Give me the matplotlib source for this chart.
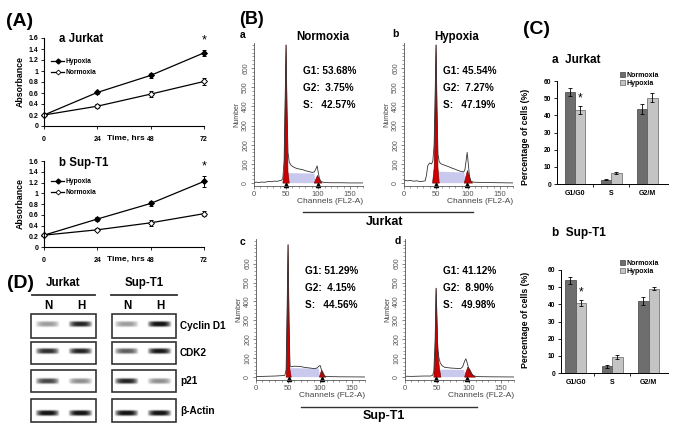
import numpy as np
import matplotlib
matplotlib.use('Agg')
from matplotlib import pyplot as plt
from matplotlib.lines import Line2D
from matplotlib.patches import Rectangle
from matplotlib.ticker import MultipleLocator, FixedLocator, FuncFormatter

plt.rcParams['font.family'] = ['Liberation Sans', 'DejaVu Sans']

W, H = 685, 428

# ---- (A) absorbance over time
hours = [0, 24, 48, 72]
jk_hyp = [0.20, 0.61, 0.92, 1.33]
jk_hyp_err = [0.02, 0.03, 0.04, 0.06]
jk_nor = [0.20, 0.36, 0.58, 0.81]
jk_nor_err = [0.02, 0.04, 0.05, 0.06]
st_hyp = [0.22, 0.52, 0.81, 1.22]
st_hyp_err = [0.02, 0.03, 0.04, 0.10]
st_nor = [0.22, 0.32, 0.45, 0.62]
st_nor_err = [0.02, 0.03, 0.05, 0.05]

# ---- (B) DNA content histograms (channel, count)
a_ch = [0, 4, 8, 12, 16, 20, 24, 28, 32, 36, 40, 43, 45, 47, 48.5, 50, 51.5, 53, 55, 58, 61, 64, 67,
        70, 73, 76, 79, 82, 85, 88, 91, 94, 96, 98.5, 100, 102, 104, 107, 112, 120, 135, 150, 170]
a_cnt = [3, 5, 3, 6, 4, 7, 9, 7, 11, 9, 13, 15, 25, 120, 420, 720, 380, 160, 108, 92, 85, 80, 76,
         74, 72, 70, 66, 63, 61, 58, 56, 58, 70, 90, 60, 25, 10, 5, 3, 2, 2, 1, 1]
a_g1 = ([45, 47, 48.5, 50, 51.5, 53, 55], [0, 60, 380, 720, 380, 60, 0])
a_g2 = ([94, 97, 99, 101, 104, 106], [0, 25, 40, 28, 8, 0])
a_s = ([52, 54, 94, 97], [0, 52, 50, 0])

b_ch = [0, 5, 10, 15, 20, 25, 30, 33, 35, 37, 40, 43, 45, 47, 48.5, 50, 51.5, 53, 55, 58, 62, 66,
        70, 75, 80, 85, 90, 93, 95, 97, 98.5, 100, 102, 104, 108, 115, 130, 150, 170]
b_cnt = [15, 12, 14, 10, 12, 8, 10, 12, 40, 90, 105, 100, 115, 200, 450, 720, 380, 150, 110, 100, 95, 90,
         85, 78, 72, 65, 60, 58, 70, 120, 160, 110, 40, 12, 5, 4, 3, 2, 1]
b_g1 = ([44.5, 47, 48.5, 50, 51.5, 53, 55], [0, 80, 400, 720, 380, 80, 0])
b_g2 = ([94, 97, 99, 101, 104, 107], [0, 40, 66, 45, 12, 0])
b_s = ([52, 54, 94, 96], [0, 60, 55, 0])

c_ch = [0, 10, 20, 30, 40, 45, 47, 48.5, 50, 51.5, 53, 55, 60, 65, 70, 75, 80, 85, 90, 95, 98, 100,
        102, 104, 106, 115, 130, 170]
c_cnt = [3, 4, 5, 6, 8, 10, 40, 350, 700, 300, 60, 55, 58, 57, 56, 52, 50, 48, 45, 48, 58, 62,
         40, 15, 5, 3, 2, 1]
c_g1 = ([47, 48.5, 50, 51.5, 53, 55], [0, 300, 700, 300, 40, 0])
c_g2 = ([99, 101, 103, 105, 107, 109], [0, 25, 35, 22, 8, 0])
c_s = ([52, 54, 98, 100], [0, 48, 45, 0])

d_ch = [0, 10, 20, 30, 40, 43, 45, 47, 48.5, 50, 51, 53, 55, 58, 62, 67, 72, 77, 82, 87, 90, 93,
        95, 97, 99, 101, 103, 106, 112, 130, 170]
d_cnt = [5, 4, 5, 6, 6, 10, 30, 200, 470, 300, 150, 100, 75, 60, 52, 50, 48, 47, 46, 46, 55, 85,
         97, 75, 50, 38, 20, 8, 3, 2, 1]
d_g1 = ([45, 47, 48.5, 50, 52, 54, 56], [0, 150, 470, 280, 100, 40, 0])
d_g2 = ([93, 95, 98, 101, 105, 110], [0, 25, 53, 40, 15, 0])
d_s = ([53, 55, 92, 95], [0, 40, 38, 0])

peak_marks = {'a': [50, 100], 'b': [50, 99], 'c': [51, 103], 'd': [49, 97]}
stats = {'a': ['G1: 53.68%', 'G2:  3.75%', 'S:   42.57%'],
         'b': ['G1: 45.54%', 'G2:  7.27%', 'S:   47.19%'],
         'c': ['G1: 51.29%', 'G2:  4.15%', 'S:   44.56%'],
         'd': ['G1: 41.12%', 'G2:  8.90%', 'S:   49.98%']}

# ---- (C) cell cycle distribution (%)
phases = ['G1/G0', 'S', 'G2/M']
jk_bar_nor = [53.7, 2.6, 43.8]
jk_bar_nor_err = [2.5, 0.3, 3.0]
jk_bar_hyp = [43.3, 6.3, 50.3]
jk_bar_hyp_err = [2.4, 0.7, 2.8]
st_bar_nor = [54.0, 3.8, 42.0]
st_bar_nor_err = [2.0, 1.0, 2.2]
st_bar_hyp = [41.0, 9.4, 49.2]
st_bar_hyp_err = [1.8, 1.2, 1.0]

# ---- (D) western blot band intensities (N, H)
proteins = ['Cyclin D1', 'CDK2', 'p21', 'β-Actin']
jk_bands = [[0.40, 0.90], [0.85, 0.90], [0.75, 0.45], [1.00, 1.00]]
st_bands = [[0.40, 1.00], [0.65, 0.95], [0.90, 0.45], [1.00, 1.00]]


fig = plt.figure(figsize=(W / 100, H / 100), dpi=100)


def px_axes(x0, y0, x1, y1):
    return fig.add_axes([x0 / W, 1 - y1 / H, (x1 - x0) / W, (y1 - y0) / H])


def ftext(x, y, s, **kw):
    kw.setdefault('ha', 'center')
    kw.setdefault('va', 'center')
    return fig.text(x / W, 1 - y / H, s, **kw)


def fline(x0, x1, y, lw=1.0):
    fig.add_artist(Line2D([x0 / W, x1 / W], [1 - y / H, 1 - y / H], color='#333333', lw=lw))


def absorbance(box, hyp, hyp_err, nor, nor_err, title, title_y, leg_y):
    ax = px_axes(*box)
    kw = dict(color='black', marker='D', ms=3, lw=0.9, capsize=1.5, elinewidth=0.7,
              capthick=0.7, mew=0.7, clip_on=False)
    ax.errorbar(hours, hyp, yerr=hyp_err, mfc='black', **kw)
    ax.errorbar(hours, nor, yerr=nor_err, mfc='white', **kw)
    ax.set_xlim(0, 72)
    ax.set_ylim(0, 1.6)
    for s in ('top', 'right'):
        ax.spines[s].set_visible(False)
    for s in ('left', 'bottom'):
        ax.spines[s].set_linewidth(0.8)
    ax.set_xticks(hours)
    ax.set_yticks(np.arange(0, 1.61, 0.2))
    ax.yaxis.set_major_formatter(FuncFormatter(lambda v, p: '%g' % round(v, 1)))
    ax.tick_params(labelsize=5, length=2, width=0.6, pad=2)
    for lab in ax.get_xticklabels() + ax.get_yticklabels():
        lab.set_fontweight('bold')
    ax.tick_params(axis='x', pad=5)
    ax.text(72, hyp[-1] + hyp_err[-1] + 0.06, '*', ha='center', va='bottom', fontsize=9)
    ax.set_ylabel('Absorbance', fontsize=6.3, fontweight='bold', labelpad=3)
    ftext(59, title_y, title, ha='left', fontsize=8.3, fontweight='bold')
    handles = [Line2D([], [], color='black', marker='D', ms=2.5, mfc='black', lw=0.9),
               Line2D([], [], color='black', marker='D', ms=2.5, mfc='white', mew=0.6, lw=0.9)]
    ax.legend(handles, ['Hypoxia', 'Normoxia'], loc='upper left',
              bbox_to_anchor=(51 / W, 1 - leg_y / H), bbox_transform=fig.transFigure,
              frameon=False, handlelength=2.0, handletextpad=0.2, labelspacing=0.65,
              borderpad=0, borderaxespad=0, prop={'size': 4.8, 'weight': 'bold'})
    return ax


# ---------------- (A)
ftext(20, 21, '(A)', fontsize=14, fontweight='bold')
ax = absorbance((44, 38, 204, 126), jk_hyp, jk_hyp_err, jk_nor, jk_nor_err, 'a Jurkat', 39, 58)
ftext(126, 138, 'Time, hrs', fontsize=6, fontweight='bold')
ax = absorbance((44, 161, 204, 247), st_hyp, st_hyp_err, st_nor, st_nor_err, 'b Sup-T1', 163, 178)
ftext(126, 259, 'Time, hrs', fontsize=6, fontweight='bold')


# ---------------- (B)
def histogram(box, ch, cnt, g1, g2, s, marks, letter, lines, stat_x, stat_y, title=None, title_x=None):
    ax = px_axes(*box)
    ax.fill(s[0], s[1], color='#c9c9ee', lw=0)
    ax.fill(g1[0], g1[1], color='#cc0000', ec='#700000', lw=0.4)
    ax.fill(g2[0], g2[1], color='#cc0000', ec='#700000', lw=0.4)
    ax.plot(ch, cnt, color='#333333', lw=0.6)
    ax.plot(marks, [-8, -8], ls='none', marker='^', ms=3, color='black', clip_on=False)
    ax.set_xlim(0, 170)
    ax.set_ylim(-15, 730)
    for sp in ('top', 'right'):
        ax.spines[sp].set_visible(False)
    for sp in ('left', 'bottom'):
        ax.spines[sp].set_linewidth(0.6)
        ax.spines[sp].set_color('#555555')
    ax.xaxis.set_major_locator(FixedLocator([0, 50, 100, 150]))
    ax.xaxis.set_minor_locator(MultipleLocator(10))
    ax.yaxis.set_major_locator(FixedLocator(range(0, 601, 100)))
    ax.yaxis.set_minor_locator(MultipleLocator(20))
    ax.tick_params(which='major', length=2.5, width=0.5, colors='#555555', labelsize=5.5, pad=1)
    ax.tick_params(which='minor', length=1.5, width=0.4, colors='#555555')
    ax.tick_params(axis='y', labelrotation=90, labelsize=5)
    for lab in ax.get_yticklabels():
        lab.set_va('center')
    ax.set_xlabel('Channels (FL2-A)', fontsize=6, color='#444444', labelpad=0, loc='right')
    ax.set_ylabel('Number', fontsize=5, color='#444444', labelpad=1)
    ftext(letter[1], letter[2], letter[0], fontsize=7.5, fontweight='bold')
    for i, txt in enumerate(lines):
        ftext(stat_x, stat_y + 17 * i, txt, ha='left', fontsize=7.2, fontweight='bold')
    if title:
        ftext(title_x, 37, title, fontsize=8.3, fontweight='bold')
    return ax


ftext(251, 19, '(B)', fontsize=13, fontweight='bold')
histogram((254, 43, 363, 186), a_ch, a_cnt, a_g1, a_g2, a_s, peak_marks['a'], ('a', 243, 35),
          stats['a'], 303, 71, 'Normoxia', 323)
histogram((404, 43, 513, 186), b_ch, b_cnt, b_g1, b_g2, b_s, peak_marks['b'], ('b', 395, 34),
          stats['b'], 443, 71, 'Hypoxia', 457)
histogram((256, 239, 365, 380), c_ch, c_cnt, c_g1, c_g2, c_s, peak_marks['c'], ('c', 243, 242),
          stats['c'], 305, 271)
histogram((405, 239, 514, 380), d_ch, d_cnt, d_g1, d_g2, d_s, peak_marks['d'], ('d', 398, 241),
          stats['d'], 443, 271)
fline(303, 473, 212)
ftext(385, 222, 'Jurkat', fontsize=9, fontweight='bold')
fline(301, 477, 407)
ftext(384, 416, 'Sup-T1', fontsize=9, fontweight='bold')


# ---------------- (C)
def phase_bars(box, xlim, nor, nor_err, hyp, hyp_err, title, title_y, leg_y, ylab_y):
    ax = px_axes(*box)
    x = np.arange(len(phases))
    w = 0.29
    ekw = dict(elinewidth=0.6, capthick=0.6, capsize=1.5, ecolor='black')
    ax.bar(x - w / 2, nor, w, yerr=nor_err, color='#6e6e6e', ec='#222222', lw=0.4,
           error_kw=ekw, label='Normoxia')
    ax.bar(x + w / 2, hyp, w, yerr=hyp_err, color='#c4c4c4', ec='#444444', lw=0.4,
           error_kw=ekw, label='Hypoxia')
    ax.text(x[0] + w / 2, hyp[0] + hyp_err[0] + 0.5, '*', ha='center', va='bottom', fontsize=8.5)
    ax.set_xlim(*xlim)
    ax.set_ylim(0, 60)
    for sp in ('top', 'right'):
        ax.spines[sp].set_visible(False)
    for sp in ('left', 'bottom'):
        ax.spines[sp].set_linewidth(0.7)
    ax.set_yticks(range(0, 61, 10))
    ax.set_xticks(x)
    ax.set_xticklabels(phases)
    ax.set_xticks([0.5, 1.5], minor=True)
    ax.tick_params(axis='x', which='major', length=0, pad=4, labelsize=5)
    ax.tick_params(axis='x', which='minor', length=2, width=0.6)
    ax.tick_params(axis='y', length=2, width=0.6, labelsize=4.8, pad=2)
    for lab in ax.get_xticklabels() + ax.get_yticklabels():
        lab.set_fontweight('bold')
    ftext(552, title_y, title, ha='left', fontsize=8.5, fontweight='bold')
    ftext(525, ylab_y, 'Percentage of cells (%)', rotation=90, fontsize=6.3, fontweight='bold')
    ax.legend(loc='upper left', bbox_to_anchor=(620 / W, 1 - leg_y / H),
              bbox_transform=fig.transFigure, frameon=False, handlelength=0.7, handleheight=0.7,
              handletextpad=0.2, labelspacing=0.15, borderpad=0, borderaxespad=0,
              prop={'size': 5, 'weight': 'bold'})
    return ax


ftext(537, 29, '(C)', fontsize=14, fontweight='bold')
phase_bars((557, 81, 668, 184), (-0.5, 2.58), jk_bar_nor, jk_bar_nor_err, jk_bar_hyp,
           jk_bar_hyp_err, 'a  Jurkat', 60, 72, 137)
phase_bars((561, 270, 668, 373), (-0.4, 2.53), st_bar_nor, st_bar_nor_err, st_bar_hyp,
           st_bar_hyp_err, 'b  Sup-T1', 233, 260, 320)


# ---------------- (D)
ftext(20, 284, '(D)', fontsize=14, fontweight='bold')
axd = px_axes(0, 270, 230, 428)
axd.set_xlim(0, 230)
axd.set_ylim(428, 270)
axd.axis('off')

ftext(63, 283, 'Jurkat', fontsize=8.3, fontweight='bold')
ftext(144, 283, 'Sup-T1', fontsize=8.3, fontweight='bold')
fline(32, 95, 295, lw=1.3)
fline(111, 177, 295, lw=1.3)
for lx, lab in zip([48, 81, 127, 160], ['N', 'H', 'N', 'H']):
    ftext(lx, 306, lab, fontsize=8.3, fontweight='bold')

rows = [(314, 338, 324), (342, 364, 351), (370, 392, 381), (399, 422, 413)]
blots = [((31, 96), (48, 81), jk_bands), ((112, 176), (127, 160), st_bands)]


def band(ax, cx, cy, inten, w=25, h=5.0):
    gx = np.linspace(-1, 1, 60)
    gy = np.linspace(-1, 1, 30)
    X, Y = np.meshgrid(gx, gy)
    prof = np.exp(-(Y * 1.8) ** 4) * np.clip(1 - np.abs(X) ** 3, 0, 1)
    img = np.zeros((30, 60, 4))
    img[..., :3] = 0.08
    img[..., 3] = np.clip(prof * inten * 1.05, 0, 1)
    ax.imshow(img, extent=[cx - w / 2, cx + w / 2, cy + h, cy - h], interpolation='bilinear',
              zorder=3)


for (bx0, bx1), lanes, vals in blots:
    for (ry0, ry1, rc), iv in zip(rows, vals):
        axd.add_patch(Rectangle((bx0, ry0), bx1 - bx0, ry1 - ry0, fc='white', ec='#333333',
                                lw=1.2, zorder=2))
        for lx, v in zip(lanes, iv):
            band(axd, lx, rc, v)
axd.set_aspect('auto')

for (ry0, ry1, rc), name in zip(rows, proteins):
    ftext(180, (ry0 + ry1) / 2, name, ha='left', fontsize=7.2, fontweight='bold')

fig.savefig('out.png', dpi=100)
